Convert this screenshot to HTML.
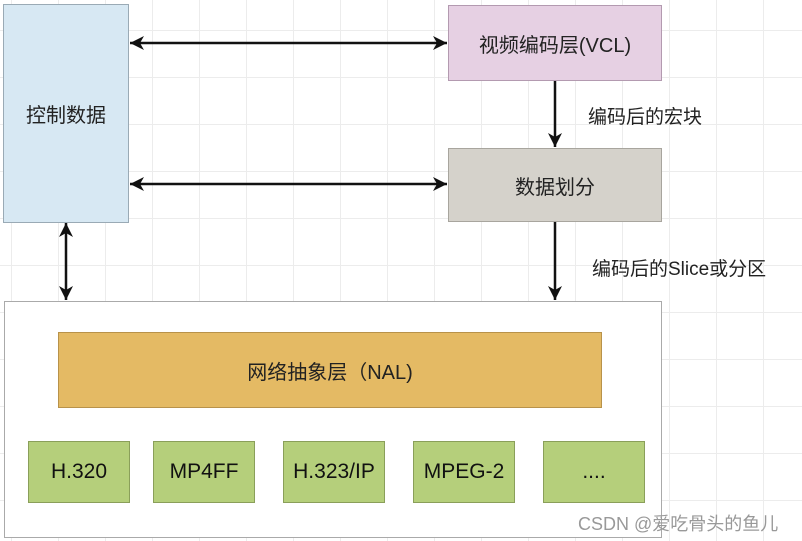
<!DOCTYPE html>
<html><head><meta charset="utf-8"><style>
body{margin:0;width:802px;height:541px;overflow:hidden;position:relative;font-family:"Liberation Sans","Noto Sans CJK SC",sans-serif;
background-color:#fff;background-image:linear-gradient(#ececec 1px,transparent 1px),linear-gradient(90deg,#ececec 1px,transparent 1px);background-size:47px 47px;background-position:11px 30px;}
.b{position:absolute;box-sizing:border-box;display:flex;align-items:center;justify-content:center;color:#222;font-size:20px;}
.g{background:#b5cf7b;border:1px solid #8a9f5a;top:441px;width:102px;height:62px;font-size:21px;color:#111}
.t{position:absolute;font-size:19px;color:#222}
</style></head><body>
<div class="b" style="left:3px;top:4px;width:126px;height:219px;background:#d7e8f3;border:1px solid #9aaab5">控制数据</div>
<div class="b" style="left:448px;top:5px;width:214px;height:76px;background:#e6d0e3;border:1px solid #b39ab0">视频编码层(VCL)</div>
<div class="b" style="left:448px;top:148px;width:214px;height:74px;background:#d5d2cb;border:1px solid #a8a59e">数据划分</div>
<div class="b" style="left:4px;top:301px;width:658px;height:237px;background:#fff;border:1px solid #aaa"></div>
<div class="b" style="left:58px;top:332px;width:544px;height:76px;background:#e4ba64;border:1px solid #b8924a">网络抽象层（NAL)</div>
<div class="b g" style="left:28px">H.320</div>
<div class="b g" style="left:153px">MP4FF</div>
<div class="b g" style="left:283px">H.323/IP</div>
<div class="b g" style="left:413px">MPEG-2</div>
<div class="b g" style="left:543px">....</div>
<div class="t" style="left:588px;top:102px">编码后的宏块</div>
<div class="t" style="left:592px;top:254px">编码后的Slice或分区</div>
<div class="t" style="left:578px;top:510px;font-size:18px;color:#999">CSDN @爱吃骨头的鱼儿</div>
<svg width="802" height="541" style="position:absolute;left:0;top:0">
<defs><marker id="a" markerWidth="16" markerHeight="16" refX="14" refY="7" orient="auto-start-reverse" markerUnits="userSpaceOnUse"><path d="M0,0 L14,7 L0,14 L4,7z" fill="#111"/></marker></defs>
<g stroke="#111" stroke-width="2.5">
<line x1="130" y1="43" x2="447" y2="43" marker-start="url(#a)" marker-end="url(#a)"/>
<line x1="130" y1="184" x2="447" y2="184" marker-start="url(#a)" marker-end="url(#a)"/>
<line x1="66" y1="223" x2="66" y2="300" marker-start="url(#a)" marker-end="url(#a)"/>
<line x1="555" y1="81" x2="555" y2="147" marker-end="url(#a)"/>
<line x1="555" y1="222" x2="555" y2="300" marker-end="url(#a)"/>
</g></svg>
</body></html>
